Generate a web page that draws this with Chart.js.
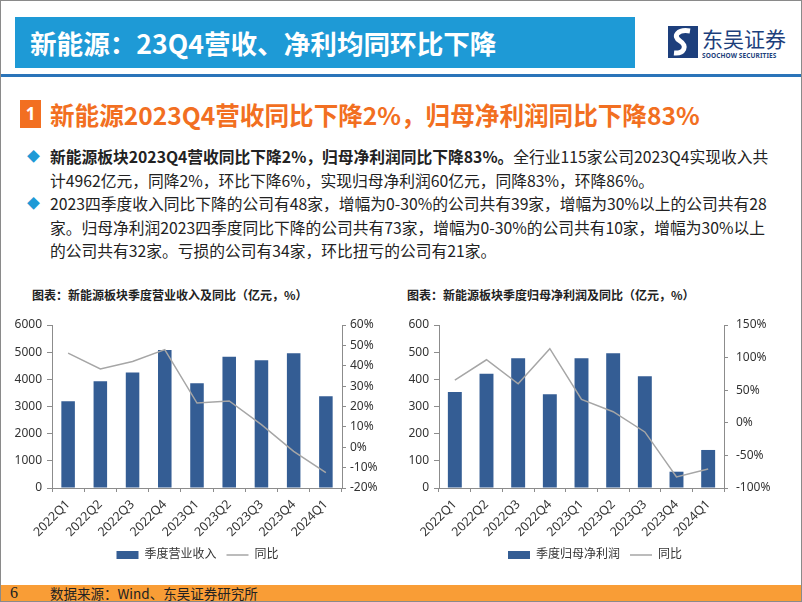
<!DOCTYPE html>
<html>
<head>
<meta charset="utf-8">
<script src="https://cdn.jsdelivr.net/npm/chart.js@4.4.0/dist/chart.umd.min.js"></script>
<style>
  html, body { margin: 0; padding: 0; background: #fff; }
  body { width: 802px; height: 602px; position: relative; overflow: hidden;
         font-family: "Noto Sans", "Noto Sans CJK SC", sans-serif; color: #222; }
  .frame { position: absolute; left: 0; top: 0; width: 802px; height: 602px;
           box-sizing: border-box; border: 1px solid #8a8a8a; pointer-events: none; z-index: 10; }
  .titlebar { position: absolute; left: 15px; top: 17px; width: 620px; height: 51px; background: #1e9ad6; }
  .titlebar span { position: absolute; left: 15px; top: 0; line-height: 51px; font-size: 26.6px;
                   font-weight: 700; color: #fff; font-family: "Noto Sans CJK SC", sans-serif; white-space: nowrap; }
  .rule { position: absolute; left: 0; top: 74px; width: 802px; height: 3px; background: #2a74b9; }
  .logo { position: absolute; left: 668px; top: 26px; }
  .logo .cn { position: absolute; left: 34px; top: -3px; font-size: 21px; color: #1d3f7c;
              font-family: "Noto Sans CJK SC", sans-serif; white-space: nowrap; }
  .logo .en { position: absolute; left: 34px; top: 25px; font-size: 6.5px; color: #1d3f7c; font-weight: 700;
              white-space: nowrap; letter-spacing: 0.1px; }
  .sec-num { position: absolute; left: 20px; top: 100px; width: 21px; height: 28px; background: #f26f21;
             color: #fff; font-weight: 700; font-size: 17px; line-height: 28px; text-align: center; }
  .sec-text { position: absolute; left: 50px; top: 99px; line-height: 30px; font-size: 24.6px; font-weight: 700;
              color: #f26f21; white-space: nowrap; font-family: "Noto Sans CJK SC", sans-serif; }
  .bullets { position: absolute; left: 50px; top: 145px; font-size: 15.75px; line-height: 23.5px;
             white-space: nowrap; font-family: "Noto Sans CJK SC", sans-serif; color: #222; }
  .dia { position: absolute; left: 27px; font-size: 13px; color: #1e9ad6; line-height: 23.5px; }
  .ctitle { position: absolute; top: 286px; font-size: 12px; font-weight: 700; white-space: nowrap;
            font-family: "Noto Sans CJK SC", sans-serif; color: #222; }
  .chartbox { position: absolute; top: 305px; height: 275px; }
  .footer { position: absolute; left: 0; top: 585px; width: 802px; height: 17px; background: #f99d36; }
  .footer .pg { position: absolute; left: 10px; top: -1px; font-size: 16px; font-family: "Liberation Serif", serif; color: #222; }
  .footer .src { position: absolute; left: 50px; top: -1px; font-size: 13.5px; line-height: 18px; color: #222;
                 font-family: "Noto Sans CJK SC", sans-serif; white-space: nowrap; }
</style>
</head>
<body>
<div class="titlebar"><span>新能源：23Q4营收、净利均同环比下降</span></div>
<div class="rule"></div>
<div class="logo">
  <svg width="30" height="32" viewBox="0 0 30 32">
    <rect x="0" y="0" width="30" height="32" fill="#1d3f7c"/>
    <path d="M22 5 C10 3, 4 10, 12 15 C20 20, 16 28, 6 27" stroke="#fff" stroke-width="5" fill="none"/>
  </svg>
  <span class="cn">东吴证券</span>
  <span class="en">SOOCHOW SECURITIES</span>
</div>

<div class="sec-num">1</div>
<div class="sec-text">新能源2023Q4营收同比下降2%，归母净利润同比下降83%</div>

<div class="dia" style="top:145px">◆</div>
<div class="dia" style="top:192px">◆</div>
<div class="bullets">
  <b>新能源板块2023Q4营收同比下降2%，归母净利润同比下降83%。</b>全行业115家公司2023Q4实现收入共<br>
  计4962亿元，同降2%，环比下降6%，实现归母净利润60亿元，同降83%，环降86%。<br>
  2023四季度收入同比下降的公司有48家，增幅为0-30%的公司共有39家，增幅为30%以上的公司共有28<br>
  家。归母净利润2023四季度同比下降的公司共有73家，增幅为0-30%的公司共有10家，增幅为30%以上<br>
  的公司共有32家。亏损的公司有34家，环比扭亏的公司有21家。
</div>

<div class="ctitle" style="left:32px">图表：新能源板块季度营业收入及同比（亿元，%）</div>
<div class="ctitle" style="left:407px">图表：新能源板块季度归母净利润及同比（亿元，%）</div>

<div class="chartbox" style="left:0; width:395px;"><canvas id="revChart"></canvas></div>
<div class="chartbox" style="left:400px; width:390px;"><canvas id="profitChart"></canvas></div>

<div class="footer"><span class="pg">6</span><span class="src">数据来源：Wind、东吴证券研究所</span></div>
<div class="frame"></div>

<script>
const quarters = ['2022Q1','2022Q2','2022Q3','2022Q4','2023Q1','2023Q2','2023Q3','2023Q4','2024Q1'];
const revenue = [3190, 3930, 4250, 5080, 3860, 4830, 4700, 4962, 3380];
const revenueYoy = [46.2, 38.4, 42.1, 47.9, 21.7, 22.7, 11.1, -2, -12.4];
const profit = [353, 421, 478, 345, 478, 496, 411, 60, 140];
const profitYoy = [65.6, 96.7, 59.9, 113.7, 36, 17, -14, -83, -71];

const FONT = '"Noto Sans", "Noto Sans CJK SC", sans-serif';
const BAR = '#345d94';
const LINE = '#a6a6a6';
const AXIS = '#8c8c8c';

const makeChart = (id, cfg) => {
    const fixW = (w) => (scale) => { scale.width = w; };
    new Chart(document.getElementById(id), {
        type: 'bar',
        data: {
            labels: quarters,
            datasets: [
                {type:'bar', label: cfg.barLabel, data: cfg.bars, backgroundColor: BAR, borderWidth: 0,
                 yAxisID: 'y', order: 1, pointStyle: 'rect', categoryPercentage: 1, barPercentage: cfg.barPct},
                {type:'line', label: '同比', data: cfg.yoy, borderColor: LINE, backgroundColor: LINE,
                 borderWidth: 1.5, pointRadius: 0, tension: 0, yAxisID: 'y1', order: 0, pointStyle: 'line'}
            ]
        },
        options: {
            responsive: true, maintainAspectRatio: false, animation: false,
            layout: {padding: {top: 20, left: 0, right: 0, bottom: 9}},
            plugins: {
                tooltip: {enabled: false},
                legend: {
                    position: 'bottom',
                    labels: {usePointStyle: true, pointStyleWidth: 22, boxHeight: 8, padding: 10,
                             color: '#333', font: {family: FONT, size: 12},
                             sort: (a, b) => a.datasetIndex - b.datasetIndex}
                }
            },
            scales: {
                x: {
                    grid: {display: true, drawOnChartArea: false, drawTicks: true, tickLength: 4, color: AXIS, offset: true},
                    border: {display: true, color: AXIS},
                    ticks: {minRotation: 45, maxRotation: 45, color: '#333', font: {family: FONT, size: 12.5}, padding: 5},
                    afterFit: (scale) => { scale.height = 51; }
                },
                y: {
                    position: 'left', min: cfg.min, max: cfg.max,
                    ticks: {stepSize: cfg.step, color: '#333', font: {family: FONT, size: 12}, padding: 5,
                            callback: (v) => String(v)},
                    grid: {drawOnChartArea: false, tickLength: 5, color: AXIS},
                    border: {display: true, color: AXIS},
                    afterFit: fixW(cfg.leftW)
                },
                y1: {
                    position: 'right', min: cfg.min1, max: cfg.max1,
                    ticks: {stepSize: cfg.step1, color: '#333', font: {family: FONT, size: 12}, padding: cfg.rpad,
                            callback: (v) => v + '%'},
                    grid: {drawOnChartArea: false, tickLength: 4, color: AXIS},
                    border: {display: true, color: AXIS},
                    afterFit: fixW(cfg.rightW)
                }
            }
        }
    });
};

makeChart('revChart', {
    barLabel: '季度营业收入', bars: revenue, yoy: revenueYoy, barPct: 0.42,
    min: 0, max: 6000, step: 1000, min1: -20, max1: 60, step1: 10,
    leftW: 52, rightW: 53, rpad: 4
});
makeChart('profitChart', {
    barLabel: '季度归母净利润', bars: profit, yoy: profitYoy, barPct: 0.44,
    min: 0, max: 600, step: 100, min1: -100, max1: 150, step1: 50,
    leftW: 39, rightW: 66, rpad: 8
});
</script>
</body>
</html>
